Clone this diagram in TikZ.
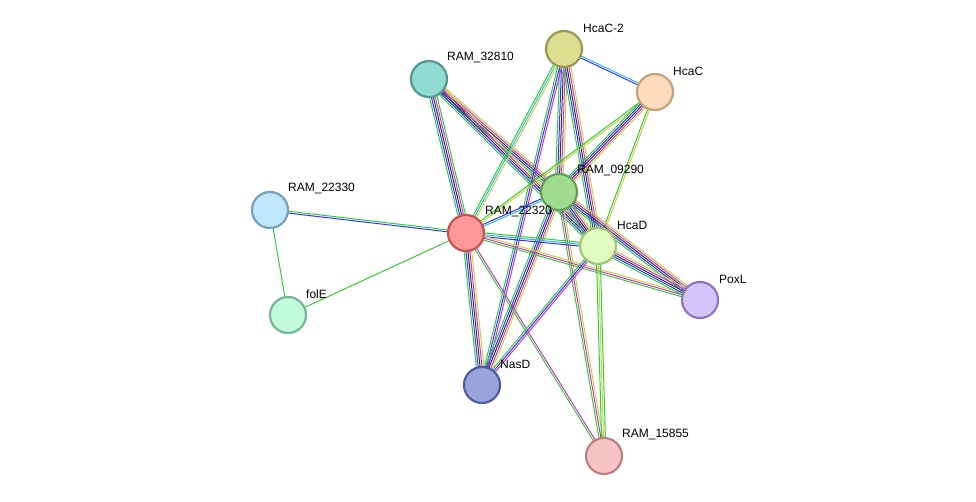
\documentclass[tikz,border=0pt]{standalone}
\usepackage{fontspec}
\setmainfont{Liberation Sans}
\usetikzlibrary{calc}
\definecolor{eg}{HTML}{33CC33}
\definecolor{eb}{HTML}{3333FF}
\definecolor{ek}{HTML}{333333}
\definecolor{em}{HTML}{CC33CC}
\definecolor{ey}{HTML}{C8D040}
\definecolor{ec}{HTML}{33BBDD}
\tikzset{
  prot/.style={circle, minimum size=36pt, inner sep=0pt, line width=2.2pt},
  lab/.style={anchor=west, font=\fontsize{12}{12}\selectfont, inner sep=0pt}
}
\newcommand\bund[4]{%
  \foreach \c [count=\i] in {#4}{%
    \pgfmathsetmacro\o{(\i-(#3+1)/2)*1.9}%
    \draw[\c, line width=1pt] ($(#1)!\o pt!90:(#2)$) -- ($(#2)!\o pt!-90:(#1)$);}}
\begin{document}
\begin{tikzpicture}[x=1pt,y=-1pt]
\useasboundingbox (0,0) rectangle (976,502);
% positions
\coordinate (hc2) at (564,49);
\coordinate (hc) at (655,92);
\coordinate (r328) at (429,79);
\coordinate (r092) at (559,192);
\coordinate (r223) at (270,210);
\coordinate (r2232) at (466,233);
\coordinate (hd) at (598,246);
\coordinate (pox) at (700,300);
\coordinate (fol) at (288,315);
\coordinate (nas) at (482,385);
\coordinate (r158) at (604,456);
% edges
\bund{r223}{r2232}{2}{eb,eg}
\bund{r223}{fol}{1}{eg}
\bund{fol}{r2232}{1}{eg}
\bund{r328}{r2232}{5}{eg,eb,ek,em,eg}
\bund{r328}{r092}{5}{eg,eb,ek,em,ey}
\bund{r328}{hd}{5}{eg,eb,ek,em,ey}
\bund{hc2}{hc}{2}{eb,ec}
\bund{hc2}{r2232}{3}{eg,ec,ey}
\bund{hc2}{r092}{5}{eg,eb,ek,em,ey}
\bund{hc2}{hd}{5}{eg,eb,ek,em,ey}
\bund{hc2}{nas}{3}{eg,eb,em}
\bund{hc}{r2232}{2}{eg,ey}
\bund{hc}{r092}{5}{eg,eb,ek,em,ey}
\bund{hc}{hd}{2}{eg,ey}
\bund{r092}{r2232}{2}{eb,ec}
\bund{r092}{hd}{5}{eg,eb,ek,em,ey}
\bund{r092}{nas}{5}{eg,eb,ek,em,ey}
\bund{r092}{pox}{5}{eg,eb,ek,em,ey}
\bund{r092}{r158}{3}{eg,em,ey}
\bund{r2232}{hd}{3}{eb,ec,eg}
\bund{r2232}{pox}{3}{eg,em,ey}
\bund{r2232}{nas}{5}{eg,eb,ek,em,ey}
\bund{r2232}{r158}{2}{eg,em}
\bund{hd}{pox}{5}{eg,eb,ek,em,ey}
\bund{hd}{nas}{3}{eg,eb,em}
\bund{hd}{r158}{3}{eg,ey,eg}
% proteins
\node[prot, fill={rgb,255:red,222;green,222;blue,144}, draw={rgb,255:red,152;green,152;blue,88}] (HcaC2) at (hc2) {};
\node[prot, fill={rgb,255:red,253;green,220;blue,188}, draw={rgb,255:red,196;green,160;blue,124}] (HcaC) at (hc) {};
\node[prot, fill={rgb,255:red,144;green,220;blue,212}, draw={rgb,255:red,84;green,152;blue,146}] (RAM32810) at (r328) {};
\node[prot, fill={rgb,255:red,160;green,220;blue,144}, draw={rgb,255:red,100;green,160;blue,88}] (RAM09290) at (r092) {};
\node[prot, fill={rgb,255:red,192;green,232;blue,252}, draw={rgb,255:red,120;green,160;blue,190}] (RAM22330) at (r223) {};
\node[prot, fill={rgb,255:red,252;green,152;blue,152}, draw={rgb,255:red,196;green,84;blue,84}] (RAM22320) at (r2232) {};
\node[prot, fill={rgb,255:red,224;green,252;blue,192}, draw={rgb,255:red,160;green,196;blue,120}] (HcaD) at (hd) {};
\node[prot, fill={rgb,255:red,212;green,196;blue,252}, draw={rgb,255:red,140;green,116;blue,196}] (PoxL) at (pox) {};
\node[prot, fill={rgb,255:red,192;green,252;blue,220}, draw={rgb,255:red,120;green,180;blue,150}] (folE) at (fol) {};
\node[prot, fill={rgb,255:red,152;green,164;blue,220}, draw={rgb,255:red,80;green,92;blue,156}] (NasD) at (nas) {};
\node[prot, fill={rgb,255:red,248;green,196;blue,196}, draw={rgb,255:red,190;green,128;blue,128}] (RAM15855) at (r158) {};
% labels
\node[lab] (lHcaC2) at ($(hc2)+(19,-21)$) {HcaC-2};
\node[lab] (lHcaC) at ($(hc)+(18,-21)$) {HcaC};
\node[lab] (lRAM32810) at ($(r328)+(18,-21)$) {RAM\_32810};
\node[lab] (lRAM09290) at ($(r092)+(18,-21)$) {RAM\_09290};
\node[lab] (lRAM22330) at ($(r223)+(18,-21)$) {RAM\_22330};
\node[lab] (lRAM22320) at ($(r2232)+(19,-21)$) {RAM\_22320};
\node[lab] (lHcaD) at ($(hd)+(19,-21)$) {HcaD};
\node[lab] (lPoxL) at ($(pox)+(19,-21)$) {PoxL};
\node[lab] (lfolE) at ($(fol)+(18,-21)$) {folE};
\node[lab] (lNasD) at ($(nas)+(18,-21)$) {NasD};
\node[lab] (lRAM15855) at ($(r158)+(18,-21)$) {RAM\_15855};
\end{tikzpicture}
\end{document}
